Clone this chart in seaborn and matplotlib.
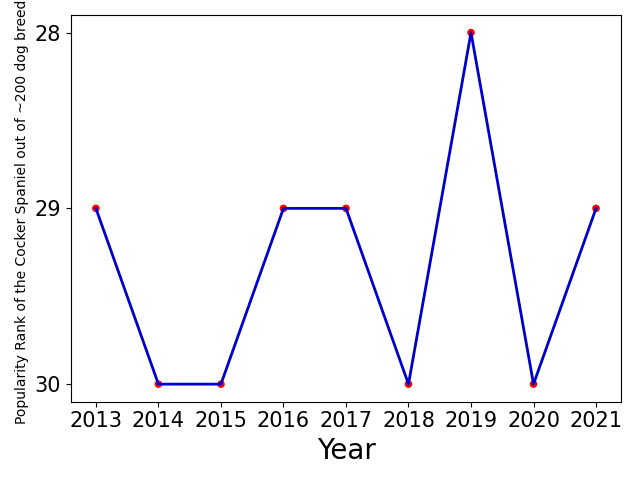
import matplotlib

matplotlib.use("Agg")
import matplotlib.pyplot as plt
import pandas as pd
import seaborn as sns

years = [2013, 2014, 2015, 2016, 2017, 2018, 2019, 2020, 2021]
ranks = [29, 30, 30, 29, 29, 30, 28, 30, 29]

df = pd.DataFrame({"year": years, "rank": ranks})

fig, ax = plt.subplots(figsize=(6.4, 4.8), dpi=100)
sns.scatterplot(data=df, x="year", y="rank", color="red", s=30, edgecolor="none", ax=ax, zorder=2)
sns.lineplot(data=df, x="year", y="rank", color="mediumblue", linewidth=2, ax=ax, zorder=3)
ax.invert_yaxis()
ax.set_xticks(years)
ax.set_yticks([28, 29, 30])
ax.tick_params(labelsize=15)
ax.set_xlabel("Year", fontsize=20)
ax.set_ylabel("Popularity Rank of the Cocker Spaniel out of ~200 dog breeds", fontsize=10)
fig.tight_layout()
fig.savefig("out.png", dpi=100)
plt.close(fig)
